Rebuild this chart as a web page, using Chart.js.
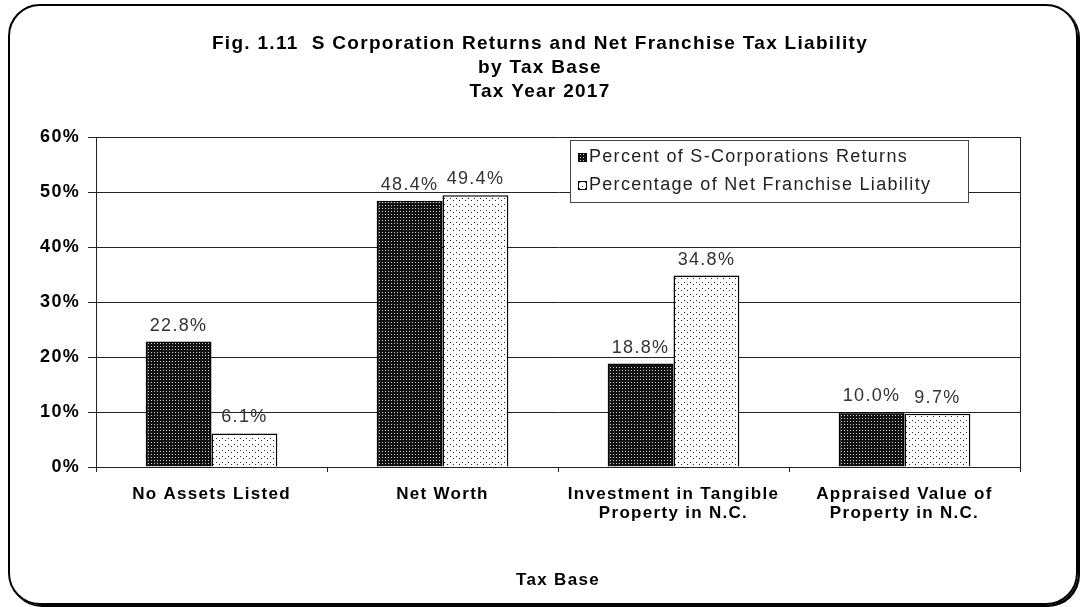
<!DOCTYPE html>
<html>
<head>
<meta charset="utf-8">
<script src="https://cdn.jsdelivr.net/npm/chart.js@4.4.1/dist/chart.umd.min.js"></script>
<style>
  body { margin: 0; background: #fff; }
  #frame {
    position: absolute; left: 8px; top: 4px; width: 1066px; height: 597px;
    border: 2px solid #000; border-radius: 32px;
    box-shadow: 2px 2px 0 #000;
  }
  #wrap { position: absolute; left: 0; top: 0; width: 1081px; height: 607px; }
</style>
</head>
<body>
<div id="frame"></div>
<div id="wrap"><canvas id="chart" width="1081" height="607"></canvas></div>
<script>
// данные графика
const categories = ['No Assets Listed', 'Net Worth', ['Investment in Tangible', 'Property in N.C.'], ['Appraised Value of', 'Property in N.C.']];
const returnsPct = [22.8, 48.4, 18.8, 10.0];
const liabilityPct = [6.1, 49.4, 34.8, 9.7];
const yTicks = [0, 10, 20, 30, 40, 50, 60];
const seriesNames = ['Percent of S-Corporations Returns', 'Percentage of Net Franchise Liability'];
const titleLines = ['Fig. 1.11  S Corporation Returns and Net Franchise Tax Liability', 'by Tax Base', 'Tax Year 2017'];

const FONT = 'Arial, "Liberation Sans", sans-serif';
const SPACING = '1.3px';
const LINE = '#222';

function makePattern(bg, fg, dots, size) {
  const c = document.createElement('canvas');
  c.width = size; c.height = size;
  const g = c.getContext('2d');
  g.fillStyle = bg;
  g.fillRect(0, 0, size, size);
  g.fillStyle = fg;
  dots.forEach(d => g.fillRect(d[0], d[1], 1, 1));
  return g.createPattern(c, 'repeat');
}

const ctx = document.getElementById('chart').getContext('2d');
const darkPat = makePattern('#111', '#ccc', [[1, 1], [1, 3]], 3);
const lightPat = makePattern('#fff', '#222', [[0, 0], [3, 2]], 6);

// разрядка букв, как на исходной картинке
const spacing = {
  id: 'spacing',
  beforeLayout(chart) { chart.ctx.letterSpacing = SPACING; },
  beforeDraw(chart) { chart.ctx.letterSpacing = SPACING; }
};

// заголовок и правая граница области графика
const titleText = {
  id: 'titleText',
  afterDraw(chart) {
    const c = chart.ctx;
    const a = chart.chartArea;
    c.save();
    c.strokeStyle = LINE;
    c.lineWidth = 1;
    c.beginPath();
    c.moveTo(a.right + 0.5, a.top);
    c.lineTo(a.right + 0.5, a.bottom + 5);
    c.stroke();
    c.letterSpacing = SPACING;
    c.font = 'bold 19px ' + FONT;
    c.fillStyle = '#000';
    c.textAlign = 'center';
    c.textBaseline = 'middle';
    titleLines.forEach((t, i) => c.fillText(t, 540, 44 + i * 24));
    c.restore();
  }
};

// подписи значений над столбцами
const valueLabels = {
  id: 'valueLabels',
  afterDatasetsDraw(chart) {
    const c = chart.ctx;
    c.save();
    c.letterSpacing = SPACING;
    c.font = '18px ' + FONT;
    c.fillStyle = '#333';
    c.textAlign = 'center';
    c.textBaseline = 'alphabetic';
    chart.data.datasets.forEach((ds, i) => {
      chart.getDatasetMeta(i).data.forEach((bar, j) => {
        c.fillText(ds.data[j].toFixed(1) + '%', bar.x, bar.y - 11);
      });
    });
    c.restore();
  }
};

// легенда в рамке внутри области графика
const boxLegend = {
  id: 'boxLegend',
  afterDraw(chart) {
    const c = chart.ctx;
    const a = chart.chartArea;
    const x = a.left + 474, y = a.top + 3, w = 398, h = 62;
    c.save();
    c.letterSpacing = SPACING;
    c.fillStyle = '#fff';
    c.fillRect(x, y, w, h);
    c.strokeStyle = '#444';
    c.lineWidth = 1;
    c.strokeRect(x + 0.5, y + 0.5, w, h);
    c.font = '18px ' + FONT;
    c.textBaseline = 'middle';
    chart.data.datasets.forEach((ds, i) => {
      const ly = y + 17 + i * 28;
      c.fillStyle = ds.backgroundColor;
      c.fillRect(x + 8, ly - 4, 9, 9);
      c.strokeStyle = '#000';
      c.strokeRect(x + 8.5, ly - 3.5, 8, 8);
      c.fillStyle = '#222';
      c.fillText(ds.label, x + 19, ly);
    });
    c.restore();
  }
};

new Chart(ctx, {
  type: 'bar',
  data: {
    labels: categories,
    datasets: [
      { label: seriesNames[0], data: returnsPct, backgroundColor: darkPat, borderColor: '#000', borderWidth: 1.5 },
      { label: seriesNames[1], data: liabilityPct, backgroundColor: lightPat, borderColor: '#000', borderWidth: 1.5 }
    ]
  },
  options: {
    responsive: false,
    animation: false,
    devicePixelRatio: 1,
    layout: { padding: { left: 0, right: 61, top: 137, bottom: 0 } },
    datasets: { bar: { categoryPercentage: 0.57, barPercentage: 1.0 } },
    plugins: {
      legend: { display: false },
      tooltip: { enabled: false },
      title: { display: false }
    },
    scales: {
      x: {
        afterFit: axis => { axis.height = 140; },
        grid: { display: true, drawOnChartArea: false, color: LINE, tickLength: 5 },
        border: { color: LINE, width: 1 },
        ticks: { color: '#000', font: { family: FONT, size: 17, weight: 'bold', lineHeight: 1.12 }, maxRotation: 0, padding: 13 },
        title: { display: true, text: 'Tax Base', color: '#000', font: { family: FONT, size: 17, weight: 'bold' }, padding: { top: 4, bottom: 16 } }
      },
      y: {
        min: yTicks[0],
        max: yTicks[yTicks.length - 1],
        afterFit: axis => { axis.width = 96; },
        afterBuildTicks: axis => { axis.ticks = yTicks.map(v => ({ value: v })); },
        grid: { color: LINE, lineWidth: 1, tickLength: 8 },
        border: { color: LINE, width: 1 },
        ticks: { color: '#000', font: { family: FONT, size: 18, weight: 'bold' }, padding: 8, callback: v => v + '%' }
      }
    }
  },
  plugins: [spacing, titleText, valueLabels, boxLegend]
});
</script>
</body>
</html>
